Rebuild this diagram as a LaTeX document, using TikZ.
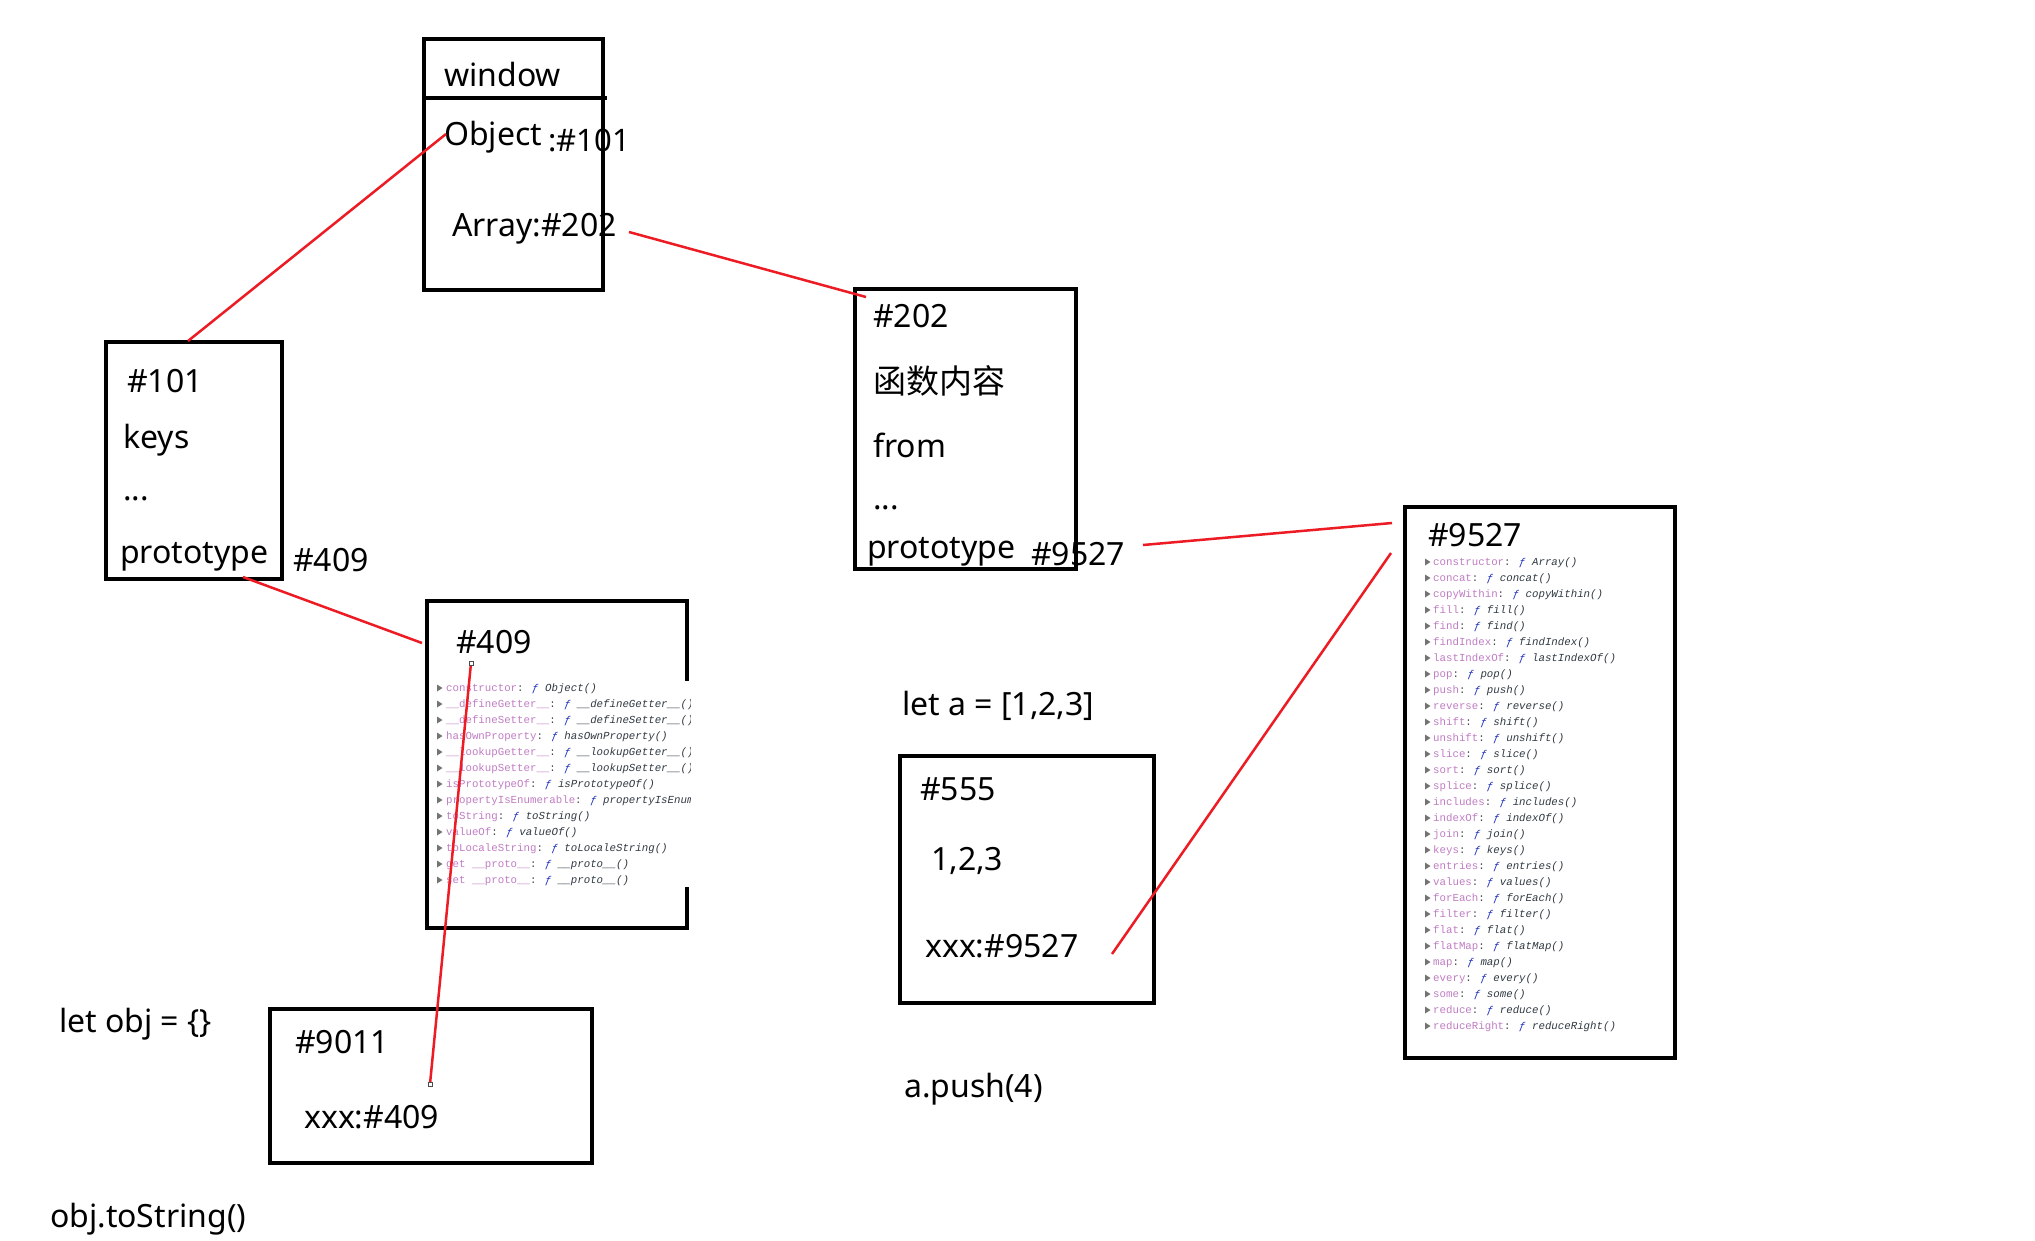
\documentclass[tikz,border=0pt]{standalone}
\usepackage{fontspec}
\setmainfont{Noto Sans}
\newfontfamily\cjk{Noto Sans CJK SC}
\newfontfamily\mono{Liberation Mono}
\definecolor{lred}{RGB}{237,28,36}
\definecolor{pname}{RGB}{192,124,196}
\definecolor{pcolon}{RGB}{70,70,70}
\definecolor{fblue}{RGB}{30,50,190}
\definecolor{fname}{RGB}{48,57,66}
\definecolor{trigray}{RGB}{115,115,115}
\newcommand\proprow[2]{{\color{pname}#1}{\color{pcolon}: }{\color{fblue}\itshape ƒ }{\color{fname}\itshape #2()}}
\begin{document}
\begin{tikzpicture}[x=1pt,y=-1pt,
 box/.style={draw=black, line width=3.3pt, anchor=north west, inner sep=0pt, outer sep=0pt},
 lbl/.style={font=\fontsize{32}{38}\selectfont, inner sep=0pt, anchor=base west},
 cjklbl/.style={font=\cjk\fontsize{33}{38}\selectfont, inner sep=0pt, anchor=base west},
 rowtxt/.style={font=\mono\fontsize{10.75}{13}\selectfont, inner sep=0pt, anchor=base west},
 link/.style={draw=lred, line width=2.5pt},
 pinmark/.style={draw=black!70, fill=white, line width=0.8pt, minimum size=4pt, inner sep=0pt, shape=rectangle},
]
\fill[white] (0,0) rectangle (2035,1240);
\useasboundingbox (0,0) rectangle (2035,1240);

% ---------- window ----------
\node[box, minimum width=179pt, minimum height=251pt] (win) at (424,39) {};
\coordinate (d1) at (424,98); \coordinate (d2) at (607,98);
\draw[line width=3.3pt] (d1) -- (d2);
\node[lbl] (twin) at (444,86) {window};
\node[lbl] (tobj) at (444,145) {Object};
\node[lbl, font=\fontsize{31}{38}\selectfont] (tobjv) at (548,151) {:\#101};
\node[lbl] (tarr) at (452,236) {Array:\#202};

% ---------- #101 ----------
\node[box, minimum width=176pt, minimum height=237pt] (b101) at (106,342) {};
\node[lbl] (t101) at (127,392) {\#101};
\node[lbl] (tkeys) at (123,448) {keys};
\node[lbl] (tdots1) at (123,500) {...};
\node[lbl] (tproto1) at (120,563) {prototype};
\node[lbl] (t409out) at (293,571) {\#409};

% ---------- #409 ----------
\node[box, minimum width=260pt, minimum height=327pt] (b409) at (427,601) {};
\fill[white] (432,681) rectangle (691,887);
\node[lbl] (t409) at (456,653) {\#409};
\begin{scope}
\clip (430,672) rectangle (690,895);
\foreach \n/\f [count=\i from 0] in {constructor/Object, \_\_defineGetter\_\_/\_\_defineGetter\_\_, \_\_defineSetter\_\_/\_\_defineSetter\_\_, hasOwnProperty/hasOwnProperty, \_\_lookupGetter\_\_/\_\_lookupGetter\_\_, \_\_lookupSetter\_\_/\_\_lookupSetter\_\_, isPrototypeOf/isPrototypeOf, propertyIsEnumerable/propertyIsEnumerable, toString/toString, valueOf/valueOf, toLocaleString/toLocaleString, get \_\_proto\_\_/\_\_proto\_\_, set \_\_proto\_\_/\_\_proto\_\_} {
  \pgfmathsetmacro\yy{688+16*\i}
  \fill[trigray] (437,\yy-3.5) -- (442.5,\yy) -- (437,\yy+3.5) -- cycle;
  \node[rowtxt] (or\i) at (446,\yy+3.8) {\proprow{\n}{\f}};
}
\end{scope}

% ---------- #202 ----------
\node[box, minimum width=221pt, minimum height=280pt] (b202) at (855,289) {};
\node[lbl] (t202) at (873,327) {\#202};
\node[cjklbl] (tfn) at (873,393) {函数内容};
\node[lbl] (tfrom) at (873,457) {from};
\node[lbl] (tdots2) at (873,509) {...};
\node[lbl] (tproto2) at (867,558) {prototype};
\node[lbl] (t9527out) at (1031,565) {\#9527};

% ---------- #9527 ----------
\node[box, minimum width=270pt, minimum height=551pt] (b9527) at (1405,507) {};
\node[lbl] (t9527) at (1428,546) {\#9527};
\foreach \n/\f [count=\i from 0] in {constructor/Array, concat/concat, copyWithin/copyWithin, fill/fill, find/find, findIndex/findIndex, lastIndexOf/lastIndexOf, pop/pop, push/push, reverse/reverse, shift/shift, unshift/unshift, slice/slice, sort/sort, splice/splice, includes/includes, indexOf/indexOf, join/join, keys/keys, entries/entries, values/values, forEach/forEach, filter/filter, flat/flat, flatMap/flatMap, map/map, every/every, some/some, reduce/reduce, reduceRight/reduceRight} {
  \pgfmathsetmacro\yy{562+16*\i}
  \fill[trigray] (1425,\yy-3.5) -- (1430.5,\yy) -- (1425,\yy+3.5) -- cycle;
  \node[rowtxt] (ar\i) at (1433,\yy+3.8) {\proprow{\n}{\f}};
}

% ---------- #555 ----------
\node[lbl] (tleta) at (902,715) {let a = [1,2,3]};
\node[box, minimum width=254pt, minimum height=247pt] (b555) at (900,756) {};
\node[lbl] (t555) at (920,800) {\#555};
\node[lbl] (t123) at (931,870) {1,2,3};
\node[lbl] (txxx1) at (925,957) {xxx:\#9527};
\node[lbl] (tpush) at (904,1097) {a.push(4)};

% ---------- #9011 ----------
\node[lbl] (tletobj) at (59,1032) {let obj = \{\}};
\node[box, minimum width=322pt, minimum height=154pt] (b9011) at (270,1009) {};
\node[lbl] (t9011) at (295,1053) {\#9011};
\node[lbl] (txxx2) at (304,1128) {xxx:\#409};
\node[lbl] (ttostr) at (50,1227) {obj.toString()};

% ---------- red links ----------
\coordinate (pObj) at (446,134);   \coordinate (p101) at (188,341);
\coordinate (pArr) at (629,232);   \coordinate (p202) at (866,297);
\coordinate (pPr1) at (243,577);   \coordinate (p409) at (422,643);
\coordinate (pPr2) at (1143,545);  \coordinate (p9527a) at (1392,523);
\coordinate (p9527b) at (1391,553); \coordinate (pxxx1) at (1112,954);
\coordinate (q409) at (471,663);   \coordinate (qxxx2) at (430,1084);
\draw[link] (pObj) -- (p101);
\draw[link] (pArr) -- (p202);
\draw[link] (pPr1) -- (p409);
\draw[link] (pPr2) -- (p9527a);
\draw[link] (p9527b) -- (pxxx1);
\draw[link] (q409) -- (qxxx2);
\node[pinmark] (m1) at (q409) {};
\node[pinmark] (m2) at (qxxx2) {};
\end{tikzpicture}
\end{document}
